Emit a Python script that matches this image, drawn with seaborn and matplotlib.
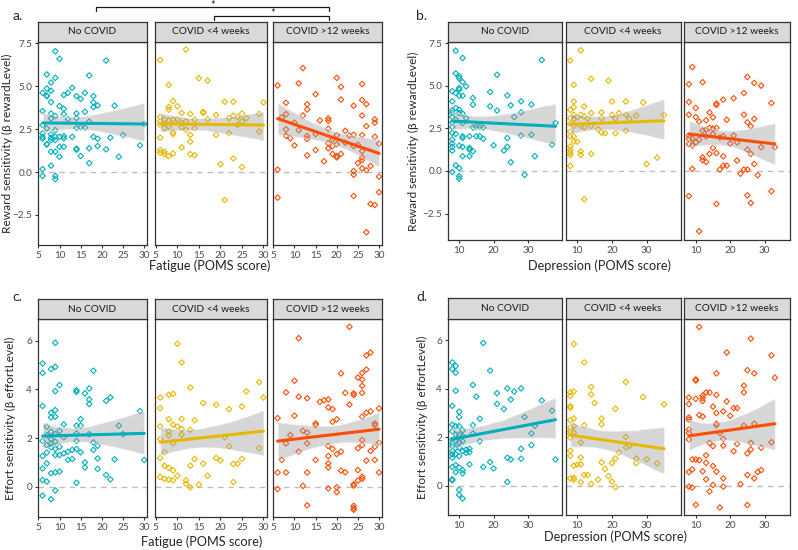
import numpy as np
import matplotlib
matplotlib.use("Agg")
import matplotlib.pyplot as plt
from matplotlib.lines import Line2D
import seaborn as sns

groups = ["No COVID", "COVID <4 weeks", "COVID >12 weeks"]
palette = ["#00AFBB", "#E7B800", "#FC4E07"]

# panel a: fatigue vs reward sensitivity
a_none_x = [9, 10, 21, 7, 17, 9, 8, 13, 6, 7, 8, 7, 7, 12, 11, 16, 14, 15, 18, 8,
            18, 19, 18, 23, 10, 11, 6, 16, 8, 11, 14, 9, 8, 12, 14, 17, 6, 7, 14, 15,
            16, 9, 30, 6, 6, 6, 8, 8, 9, 9, 8, 10, 11, 11, 13, 7, 7, 10, 11, 14,
            14, 18, 19, 22, 25, 19, 21, 17, 29, 8, 9, 10, 15, 24, 17, 8, 6, 6, 9, 9]
a_none_y = [7.03, 6.59, 6.49, 5.68, 5.62, 5.48, 5.21, 4.9, 4.61, 4.86, 4.73, 4.42, 4.45, 4.61, 4.48, 4.61, 4.42, 4.26, 4.42, 4.07,
            4.05, 3.88, 3.78, 3.86, 3.84, 3.68, 3.55, 3.51, 3.41, 3.37, 3.41, 3.26, 3.12, 3.08, 3.14, 2.93, 2.73, 2.54, 2.56, 2.6,
            2.58, 2.44, 2.79, 2.25, 2.05, 1.94, 2.19, 2.0, 2.05, 1.86, 1.86, 2.05, 2.09, 1.96, 2.05, 1.6, 1.63, 1.47, 1.47, 1.3,
            1.36, 2.05, 1.94, 2.0, 2.15, 1.51, 1.32, 1.38, 1.55, 1.18, 1.18, 0.89, 0.93, 0.89, 0.52, 0.37, 0.17, -0.23, -0.23, -0.41]
a_acute_x = [6, 12, 8, 15, 17, 8, 9, 10, 8, 6, 11, 13, 16, 16, 19, 21, 23, 30, 6, 7,
             8, 9, 10, 11, 12, 14, 17, 22, 23, 24, 25, 26, 29, 6, 7, 8, 9, 9, 11, 12,
             13, 14, 19, 22, 24, 25, 29, 6, 13, 6, 6, 7, 8, 9, 11, 13, 14, 20, 23, 25, 21, 7]
a_acute_y = [6.52, 7.13, 5.07, 5.46, 5.32, 3.79, 4.13, 3.83, 3.63, 3.2, 3.44, 3.38, 3.5, 3.44, 3.32, 4.09, 4.09, 4.05, 2.95, 3.05,
             3.0, 3.05, 3.08, 2.85, 2.95, 3.05, 3.08, 3.14, 3.28, 3.2, 3.4, 3.14, 3.38, 2.75, 2.55, 2.65, 2.3, 2.22, 2.6, 2.45,
             2.16, 2.55, 2.16, 2.26, 2.75, 2.95, 2.36, 2.0, 1.77, 1.28, 1.12, 1.04, 0.92, 1.08, 1.43, 1.04, 0.98, 0.45, 0.79, 0.29, -1.63, 1.18]
a_long_x = [12, 6, 11, 20, 26, 21, 15, 21, 26, 27, 8, 13, 13, 24, 12, 26, 8, 7, 18, 18,
            16, 29, 29, 27, 10, 8, 11, 18, 22, 8, 9, 13, 15, 20, 23, 24, 26, 29, 19, 13,
            18, 19, 20, 22, 24, 25, 10, 18, 15, 26, 30, 13, 19, 20, 21, 20, 26, 26, 25, 17,
            28, 26, 24, 27, 24, 6, 30, 6, 24, 30, 28, 29, 27]
a_long_y = [6.05, 5.04, 5.16, 5.48, 5.12, 4.96, 4.53, 4.22, 4.19, 3.95, 4.03, 3.95, 3.64, 3.86, 3.29, 3.29, 3.37, 3.18, 3.12, 2.98,
            3.0, 3.06, 2.87, 2.67, 2.87, 2.48, 2.44, 2.52, 2.4, 2.11, 1.96, 2.09, 2.21, 2.15, 2.13, 2.17, 2.15, 2.05, 1.9, 1.92,
            1.67, 1.51, 1.61, 1.71, 1.51, 1.59, 1.55, 1.38, 1.28, 1.22, 1.65, 0.97, 1.05, 0.93, 1.05, 0.85, 0.85, 0.7, 0.52, 0.62,
            0.35, 0.21, 0.06, 0.1, -0.16, 0.14, -0.27, -1.49, -1.4, -1.18, -1.86, -1.92, -3.51]

# panel b: depression vs reward sensitivity
b_none_x = [9, 11, 34, 9, 21, 10, 10, 11, 12, 8, 9, 10, 10, 10, 11, 19, 24, 14, 14, 8,
            28, 31, 19, 25, 21, 28, 26, 8, 9, 10, 8, 10, 11, 8, 12, 9, 8, 11, 8, 14,
            16, 17, 15, 8, 9, 11, 11, 13, 15, 16, 17, 24, 28, 31, 8, 8, 8, 8, 10, 11,
            13, 13, 14, 20, 24, 23, 11, 13, 37, 38, 25, 32, 9, 10, 8, 10, 10, 29]
b_none_y = [7.05, 6.62, 6.5, 5.72, 5.64, 5.55, 5.43, 5.21, 4.96, 4.67, 4.57, 4.86, 4.77, 4.41, 4.41, 4.63, 4.43, 4.28, 3.89, 4.08,
            4.08, 3.89, 3.79, 3.85, 3.54, 3.44, 3.16, 3.55, 3.69, 3.59, 3.4, 3.4, 3.36, 3.16, 3.1, 3.0, 2.85, 2.81, 2.58, 2.54,
            2.58, 2.54, 2.58, 2.23, 2.17, 2.03, 1.93, 2.03, 2.03, 2.03, 1.88, 1.93, 2.07, 2.13, 1.84, 1.6, 1.41, 1.19, 1.48, 1.41,
            1.35, 1.25, 1.15, 1.5, 1.41, 1.19, 0.86, 0.86, 1.54, 2.81, 0.51, 0.86, 0.33, 0.16, -0.06, -0.31, -0.45, -0.23]
b_acute_x = [8, 11, 9, 14, 19, 9, 9, 12, 8, 20, 24, 29, 9, 11, 14, 17, 20, 22, 24, 27,
             35, 8, 9, 10, 12, 13, 21, 25, 17, 8, 9, 11, 12, 14, 16, 8, 8, 9, 17, 18,
             21, 24, 10, 8, 8, 8, 8, 11, 11, 14, 8, 30, 33, 12, 9]
b_acute_y = [6.48, 7.07, 5.05, 5.4, 5.29, 4.07, 3.74, 3.78, 3.58, 4.07, 4.07, 4.01, 3.29, 3.29, 3.39, 3.43, 3.29, 3.39, 3.29, 3.25,
             3.29, 3.09, 3.04, 3.15, 3.19, 3.07, 3.07, 3.07, 3.09, 2.76, 2.64, 2.64, 2.56, 2.64, 2.45, 2.31, 2.02, 2.02, 2.25, 2.21,
             2.21, 2.35, 1.72, 1.43, 1.23, 1.08, 0.94, 1.14, 0.94, 1.0, 0.29, 0.41, 0.78, -1.66, 1.72]
b_long_x = [9, 8, 12, 25, 27, 29, 8, 10, 8, 10, 16, 16, 18, 21, 24, 32, 14, 15, 11, 13,
            19, 24, 27, 25, 26, 14, 15, 16, 13, 12, 8, 8, 9, 8, 9, 10, 11, 13, 15, 17,
            18, 21, 20, 22, 29, 33, 15, 14, 16, 25, 26, 12, 12, 13, 18, 22, 27, 18, 19, 17,
            24, 25, 23, 9, 28, 8, 25, 32, 16, 26, 11]
b_long_y = [6.09, 5.08, 5.2, 5.51, 5.16, 5.0, 4.04, 3.69, 3.3, 3.16, 3.95, 3.87, 4.18, 4.26, 4.57, 3.98, 3.42, 3.14, 2.89, 2.97,
            3.0, 3.3, 3.05, 2.85, 2.62, 2.52, 2.48, 2.52, 2.42, 2.36, 2.07, 1.88, 1.88, 1.58, 1.48, 1.68, 1.84, 2.03, 2.17, 1.97,
            2.03, 2.07, 1.6, 1.68, 1.39, 1.39, 1.35, 1.0, 1.05, 1.25, 1.0, 0.8, 0.63, 0.53, 0.86, 0.61, 0.41, 0.31, 0.31, 0.08,
            0.08, 0.08, -0.16, 0.12, -0.25, -1.48, -1.43, -1.19, -1.93, -1.88, -3.54]

# panel c: fatigue vs effort sensitivity
c_none_x = [9, 6, 6, 8, 9, 18, 10, 9, 14, 14, 17, 16, 17, 17, 21, 22, 6, 9, 8, 9,
            8, 15, 14, 15, 11, 7, 29, 24, 25, 10, 8, 9, 7, 6, 8, 11, 14, 17, 18, 9,
            7, 8, 14, 19, 18, 10, 9, 8, 12, 13, 15, 14, 11, 10, 9, 7, 6, 7, 12, 13,
            16, 16, 19, 23, 19, 21, 22, 30, 6, 8, 10, 9, 6, 7, 14, 9, 6, 8]
c_none_y = [5.92, 5.07, 4.68, 4.84, 4.93, 4.77, 4.18, 3.93, 3.97, 3.9, 4.04, 3.84, 3.59, 3.4, 3.53, 3.67, 3.32, 3.15, 3.04, 2.88,
            2.85, 2.78, 2.51, 2.51, 2.56, 2.47, 3.11, 2.51, 2.16, 2.29, 2.26, 2.16, 2.12, 1.88, 1.95, 2.03, 2.19, 2.16, 1.82, 1.85,
            1.71, 1.78, 1.88, 1.68, 1.51, 1.64, 1.55, 1.62, 1.44, 1.51, 1.41, 1.55, 1.37, 1.3, 1.3, 1.4, 1.26, 0.96, 1.1, 1.14,
            1.0, 0.79, 1.16, 1.12, 0.73, 0.48, 0.3, 1.1, 0.75, 0.55, 0.62, 0.59, 0.27, 0.21, 0.16, -0.16, -0.37, -0.52]
c_acute_x = [10, 11, 6, 8, 9, 13, 6, 16, 19, 22, 25, 26, 29, 30, 8, 11, 14, 6, 9, 10,
             11, 13, 8, 11, 8, 6, 9, 21, 22, 7, 6, 14, 16, 19, 20, 25, 24, 23, 29, 7,
             8, 9, 13, 6, 7, 8, 9, 10, 12, 12, 13, 15, 17, 23]
c_acute_y = [5.88, 5.11, 3.67, 3.78, 3.82, 4.08, 3.23, 3.44, 3.37, 3.19, 3.3, 3.92, 4.3, 3.67, 2.78, 2.79, 2.73, 2.48, 2.55, 2.48,
             2.37, 2.34, 2.27, 2.14, 2.11, 1.96, 1.79, 2.03, 1.66, 1.41, 1.18, 1.14, 0.95, 1.18, 1.08, 1.14, 0.95, 0.93, 1.59, 0.86,
             0.77, 0.67, 0.86, 0.4, 0.32, 0.29, 0.26, 0.45, 0.26, 0.12, -0.03, 0.08, 0.45, 0.19]
c_long_x = [23, 11, 28, 27, 27, 25, 26, 26, 21, 26, 10, 8, 11, 13, 16, 17, 18, 18, 19, 22,
            24, 24, 26, 23, 6, 10, 26, 27, 28, 30, 15, 15, 19, 20, 29, 29, 12, 13, 9, 8,
            13, 18, 19, 26, 26, 30, 29, 25, 28, 11, 21, 20, 18, 7, 15, 27, 29, 18, 18, 6,
            8, 13, 21, 22, 25, 30, 26, 26, 25, 12, 6, 24, 24, 18, 20, 20, 13, 24, 24, 24]
c_long_y = [6.58, 6.11, 5.52, 5.4, 4.82, 4.49, 4.41, 4.68, 4.66, 4.15, 4.36, 3.88, 3.7, 3.64, 3.49, 3.56, 3.59, 3.26, 3.19, 3.86,
            3.84, 3.77, 3.86, 3.38, 2.82, 2.92, 2.88, 3.04, 3.1, 3.22, 2.6, 2.53, 2.67, 2.77, 2.6, 2.53, 2.3, 2.22, 2.12, 1.78,
            1.78, 1.67, 1.55, 1.92, 1.71, 1.81, 1.64, 1.58, 1.47, 1.44, 1.44, 1.34, 1.26, 1.1, 1.1, 1.07, 1.1, 0.96, 0.79, 0.58,
            0.58, 0.58, 0.66, 0.59, 0.68, 0.58, 0.41, 0.32, 0.25, 0.03, -0.1, 0.1, 0.04, -0.07, -0.03, -0.23, -0.77, -0.79, -0.88, -0.95]

# panel d: depression vs effort sensitivity
d_none_x = [17, 8, 8, 9, 9, 19, 9, 14, 24, 28, 26, 15, 21, 21, 25, 23, 34, 37, 8, 10,
            10, 16, 29, 8, 9, 10, 11, 14, 32, 31, 8, 9, 10, 11, 14, 16, 8, 9, 10, 11,
            8, 8, 9, 10, 11, 12, 13, 12, 13, 31, 28, 8, 8, 9, 8, 10, 13, 24, 25, 28,
            38, 8, 9, 10, 11, 9, 11, 17, 19, 20, 8, 8, 24, 10, 10, 11]
d_none_y = [5.89, 5.09, 4.82, 4.94, 4.67, 4.75, 3.92, 4.16, 4.02, 4.02, 3.89, 3.68, 3.82, 3.38, 3.56, 3.17, 3.52, 3.1, 3.3, 3.06,
            2.84, 2.77, 2.84, 2.52, 2.46, 2.46, 2.29, 2.5, 2.48, 2.16, 2.25, 2.11, 2.11, 2.05, 2.16, 1.84, 1.91, 1.84, 1.8, 1.84,
            1.77, 1.64, 1.57, 1.57, 1.43, 1.5, 1.53, 1.36, 1.39, 1.68, 1.53, 1.43, 1.3, 1.3, 1.16, 1.23, 0.89, 1.16, 1.09, 1.12,
            1.09, 0.78, 0.86, 0.75, 0.65, 0.57, 0.52, 0.78, 0.98, 0.72, 0.27, 0.23, 0.16, -0.16, -0.37, -0.52]
d_acute_x = [9, 12, 14, 14, 8, 8, 9, 8, 8, 15, 24, 29, 35, 21, 17, 17, 8, 9, 12, 8,
             8, 8, 8, 9, 9, 11, 24, 25, 24, 8, 8, 11, 22, 21, 27, 27, 30, 33, 17, 20,
             9, 10, 11, 12, 18, 8, 9, 9, 11, 13, 14, 16, 19, 20, 21]
d_acute_y = [5.85, 5.09, 4.08, 3.77, 3.86, 3.7, 3.89, 3.29, 3.22, 3.42, 4.28, 3.66, 3.36, 3.18, 2.78, 2.54, 2.71, 2.78, 2.5, 2.4,
             2.26, 2.16, 1.99, 2.47, 2.2, 1.79, 2.02, 1.65, 1.58, 1.45, 1.24, 1.17, 1.38, 1.13, 1.13, 0.94, 1.1, 0.93, 0.97, 0.94,
             0.83, 0.87, 0.89, 0.45, 0.7, 0.31, 0.26, 0.34, 0.15, 0.45, 0.08, 0.26, 0.4, 0.18, -0.05]
d_long_x = [11, 26, 19, 32, 25, 27, 16, 33, 10, 10, 24, 24, 13, 14, 12, 16, 8, 10, 12, 12,
            8, 19, 15, 21, 22, 18, 16, 20, 11, 12, 8, 8, 16, 16, 24, 27, 8, 8, 8, 17,
            14, 15, 18, 18, 22, 26, 32, 21, 25, 26, 29, 13, 10, 9, 11, 15, 16, 13, 9, 8,
            12, 13, 18, 25, 28, 29, 27, 8, 9, 15, 18, 23, 14, 10, 17, 25]
d_long_y = [6.55, 6.07, 5.5, 5.38, 4.77, 4.64, 4.64, 4.46, 4.39, 4.34, 4.13, 3.85, 3.85, 3.85, 3.72, 3.75, 3.64, 3.59, 3.62, 3.5,
            3.37, 3.48, 3.27, 3.21, 3.21, 3.07, 3.0, 2.89, 2.92, 2.86, 2.82, 2.73, 2.56, 2.51, 2.48, 2.56, 2.32, 2.18, 1.91, 2.18,
            1.77, 1.64, 1.94, 1.66, 1.73, 1.77, 1.8, 1.43, 1.34, 1.5, 1.57, 1.26, 1.09, 1.09, 1.06, 0.82, 0.59, 0.95, 0.68, 0.57,
            0.6, 0.27, 0.31, 0.45, 0.57, 0.65, 0.31, -0.03, -0.07, 0.04, -0.03, 0.07, -0.23, -0.78, -0.89, -0.79]

fatigue_ticks = [5, 10, 15, 20, 25, 30]
depression_ticks = [10, 20, 30]
reward_ticks = [-2.5, 0.0, 2.5, 5.0, 7.5]
effort_ticks = [0, 2, 4, 6]

W, H = 798, 550


def px_box(x0, y0, x1, y1):
    # pixel box (top-left origin) -> figure fraction
    return [x0 / W, 1 - y1 / H, (x1 - x0) / W, (y1 - y0) / H]


sns.set_theme(style="ticks")
plt.rcParams["font.family"] = ["Lato", "DejaVu Sans"]
plt.rcParams["axes.unicode_minus"] = True

fig = plt.figure(figsize=(W / 100, H / 100), dpi=100)

cols_left = [(37.7, 147.2), (155.2, 266.5), (272.7, 382.0)]
cols_right = [(447.7, 561.7), (565.7, 680.7), (684.3, 789.5)]

panels = [
    dict(tag="a.", tag_xy=(18, 16), data=[(a_none_x, a_none_y), (a_acute_x, a_acute_y), (a_long_x, a_long_y)],
         cols=cols_left, strip=(22, 42), bottom=245, xlim=(4.85, 30.7), ylim=(-4.25, 7.57),
         xticks=fatigue_ticks, yticks=reward_ticks, yfmt="{:.1f}",
         xlabel="Fatigue (POMS score)", xlab_xy=(210, 266),
         ylabel="Reward sensitivity (β rewardLevel)", ylab_x=7),
    dict(tag="b.", tag_xy=(422, 16), data=[(b_none_x, b_none_y), (b_acute_x, b_acute_y), (b_long_x, b_long_y)],
         cols=cols_right, strip=(22, 42), bottom=240, xlim=(6.67, 39.8), ylim=(-4.05, 7.56),
         xticks=depression_ticks, yticks=reward_ticks, yfmt="{:.1f}",
         xlabel="Depression (POMS score)", xlab_xy=(599, 266),
         ylabel="Reward sensitivity (β rewardLevel)", ylab_x=413),
    dict(tag="c.", tag_xy=(17, 297), data=[(c_none_x, c_none_y), (c_acute_x, c_acute_y), (c_long_x, c_long_y)],
         cols=cols_left, strip=(299, 319), bottom=517, xlim=(4.85, 30.7), ylim=(-1.25, 6.9),
         xticks=fatigue_ticks, yticks=effort_ticks, yfmt="{:d}",
         xlabel="Fatigue (POMS score)", xlab_xy=(202, 542),
         ylabel="Effort sensitivity (β effortLevel)", ylab_x=10),
    dict(tag="d.", tag_xy=(422, 297), data=[(d_none_x, d_none_y), (d_acute_x, d_acute_y), (d_long_x, d_long_y)],
         cols=cols_right, strip=(298, 319), bottom=515, xlim=(6.67, 39.8), ylim=(-1.2, 6.88),
         xticks=depression_ticks, yticks=effort_ticks, yfmt="{:d}",
         xlabel="Depression (POMS score)", xlab_xy=(615, 537),
         ylabel="Effort sensitivity (β effortLevel)", ylab_x=422),
]

edge = "#333333"

for p in panels:
    s_top, s_bot = p["strip"]
    for i, ((x0, x1), (xs, ys)) in enumerate(zip(p["cols"], p["data"])):
        ax = fig.add_axes(px_box(x0, s_bot, x1, p["bottom"]))
        ax.axhline(0, color="#BDBDBD", lw=1.0, ls=(0, (4, 3.5)), zorder=0.5)
        sns.regplot(x=np.array(xs, dtype=float), y=np.array(ys), ax=ax, color=palette[i],
                    marker="D", ci=95, n_boot=1000, seed=3,
                    scatter_kws=dict(s=8, facecolors="none", linewidths=0.8, alpha=1, zorder=1),
                    line_kws=dict(lw=2.2, zorder=3))
        # grey confidence band, drawn over the points like ggplot
        band = ax.collections[-1]
        band.set_facecolor("#999999")
        band.set_alpha(0.4)
        band.set_zorder(2)

        xlim = p["xlim"]
        if i == 2 and x1 > 785:
            # last facet on the right is cut at the image edge
            span = (xlim[1] - xlim[0]) * (x1 - x0) / (p["cols"][0][1] - p["cols"][0][0])
            xlim = (xlim[0], xlim[0] + span)
        ax.set_xlim(*xlim)
        ax.set_ylim(*p["ylim"])
        ax.set_xlabel("")
        ax.set_ylabel("")
        ax.set_xticks(p["xticks"])
        ax.set_xticklabels([str(t) for t in p["xticks"]])
        if i == 0:
            ax.set_yticks(p["yticks"])
            ax.set_yticklabels([p["yfmt"].format(t).replace("-", "\u2212") for t in p["yticks"]])
        else:
            ax.set_yticks([])
        ax.tick_params(length=2.5, width=0.8, color=edge, labelsize=7.2, labelcolor="#4D4D4D", pad=1.5)
        for sp in ax.spines.values():
            sp.set_visible(True)
            sp.set_color(edge)
            sp.set_linewidth(0.9)

        sax = fig.add_axes(px_box(x0, s_top, x1, s_bot))
        sax.set_facecolor("#D9D9D9")
        sax.set_xticks([])
        sax.set_yticks([])
        for sp in sax.spines.values():
            sp.set_color(edge)
            sp.set_linewidth(0.9)
        sax.text(0.5, 0.5, groups[i], ha="center", va="center", fontsize=7.3, color="#1A1A1A",
                 transform=sax.transAxes)

    fig.text(p["tag_xy"][0] / W, 1 - p["tag_xy"][1] / H, p["tag"], ha="center", va="center", fontsize=10)
    fig.text(p["xlab_xy"][0] / W, 1 - p["xlab_xy"][1] / H, p["xlabel"], ha="center", va="center", fontsize=9.2)
    yc = (s_bot + p["bottom"]) / 2
    fig.text(p["ylab_x"] / W, 1 - yc / H, p["ylabel"], rotation=90, ha="center", va="center", fontsize=8.6)

# significance brackets above panel a
brackets = [((96.3, 329.0), 7.3, 11.0, 212.7, 5.0), ((214.3, 329.0), 16.0, 20.0, 272.3, 14.0)]
for (bx0, bx1), by, bdrop, sx, sy in brackets:
    fig.add_artist(Line2D([bx0 / W, bx0 / W, bx1 / W, bx1 / W],
                          [1 - bdrop / H, 1 - by / H, 1 - by / H, 1 - bdrop / H],
                          color="#1A1A1A", lw=0.9, transform=fig.transFigure))
    fig.text(sx / W, 1 - sy / H, "*", ha="center", va="center", fontsize=8)

fig.savefig("out.png", dpi=100)
